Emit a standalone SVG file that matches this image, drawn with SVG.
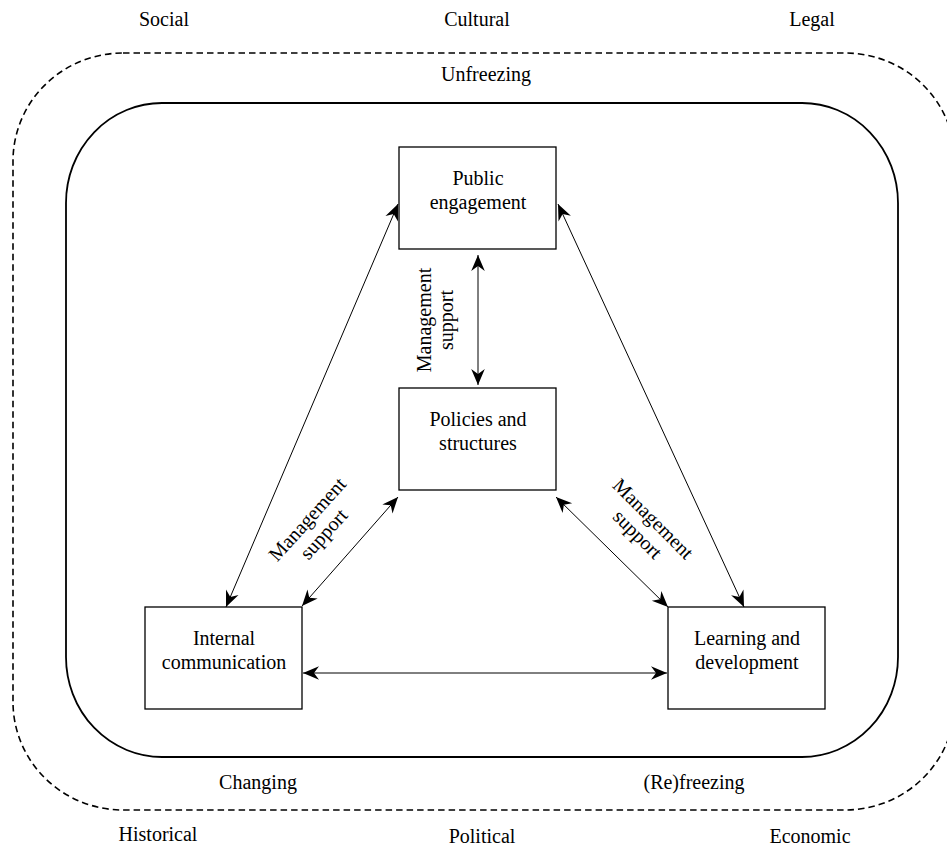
<svg xmlns="http://www.w3.org/2000/svg" width="947" height="846" viewBox="0 0 947 846">
<style>
text{font-family:"Liberation Serif","Times New Roman",serif;font-size:20px;fill:#000;text-anchor:middle}
.box{fill:#fff;stroke:#000;stroke-width:1.3}
.conn line{stroke:#000;stroke-width:1;marker-start:url(#ah);marker-end:url(#ah)}
</style>
<defs>
<marker id="ah" markerUnits="userSpaceOnUse" markerWidth="22" markerHeight="18" viewBox="-18 -9 20 18" refX="0" refY="0" orient="auto-start-reverse">
<path d="M0,0 L-16,-6.8 L-11,0 L-16,6.8 Z" fill="#000"/>
</marker>
</defs>
<rect id="outer" x="13" y="53" width="942" height="757" rx="110" ry="108" fill="none" stroke="#000" stroke-width="1.6" stroke-dasharray="6.5,4"/>
<rect id="inner" x="66" y="103" width="832" height="654" rx="96" ry="100" fill="none" stroke="#000" stroke-width="1.8"/>
<g id="context-labels">
<text x="164" y="26">Social</text>
<text x="477" y="26">Cultural</text>
<text x="812" y="26">Legal</text>
<text x="486" y="81">Unfreezing</text>
<text x="258" y="789">Changing</text>
<text x="694" y="789">(Re)freezing</text>
<text x="158" y="841">Historical</text>
<text x="482" y="843">Political</text>
<text x="810" y="843">Economic</text>
</g>
<g class="conn" id="connectors">
<line x1="398" y1="204" x2="226" y2="607"/>
<line x1="558" y1="204" x2="744" y2="607"/>
<line x1="478" y1="255" x2="478" y2="385"/>
<line x1="398" y1="497" x2="302" y2="606"/>
<line x1="556" y1="497" x2="668" y2="607"/>
<line x1="303" y1="673" x2="667" y2="673"/>
</g>
<g id="edge-labels">
<text transform="translate(436,320) rotate(-90)"><tspan x="0" y="-5">Management</tspan><tspan x="0" y="17">support</tspan></text>
<text transform="translate(316,527) rotate(-48)"><tspan x="0" y="-5">Management</tspan><tspan x="0" y="17">support</tspan></text>
<text transform="translate(645,527) rotate(45)"><tspan x="0" y="-5">Management</tspan><tspan x="0" y="17">support</tspan></text>
</g>
<g id="public-engagement">
<rect class="box" x="399" y="147" width="157" height="102"/>
<text x="478" y="185">Public</text>
<text x="478" y="209">engagement</text>
</g>
<g id="policies-structures">
<rect class="box" x="399" y="388" width="157" height="102"/>
<text x="478" y="426">Policies and</text>
<text x="478" y="450">structures</text>
</g>
<g id="internal-communication">
<rect class="box" x="145" y="607" width="157" height="102"/>
<text x="224" y="645">Internal</text>
<text x="224" y="669">communication</text>
</g>
<g id="learning-development">
<rect class="box" x="668" y="607" width="157" height="102"/>
<text x="747" y="645">Learning and</text>
<text x="747" y="669">development</text>
</g>
</svg>
